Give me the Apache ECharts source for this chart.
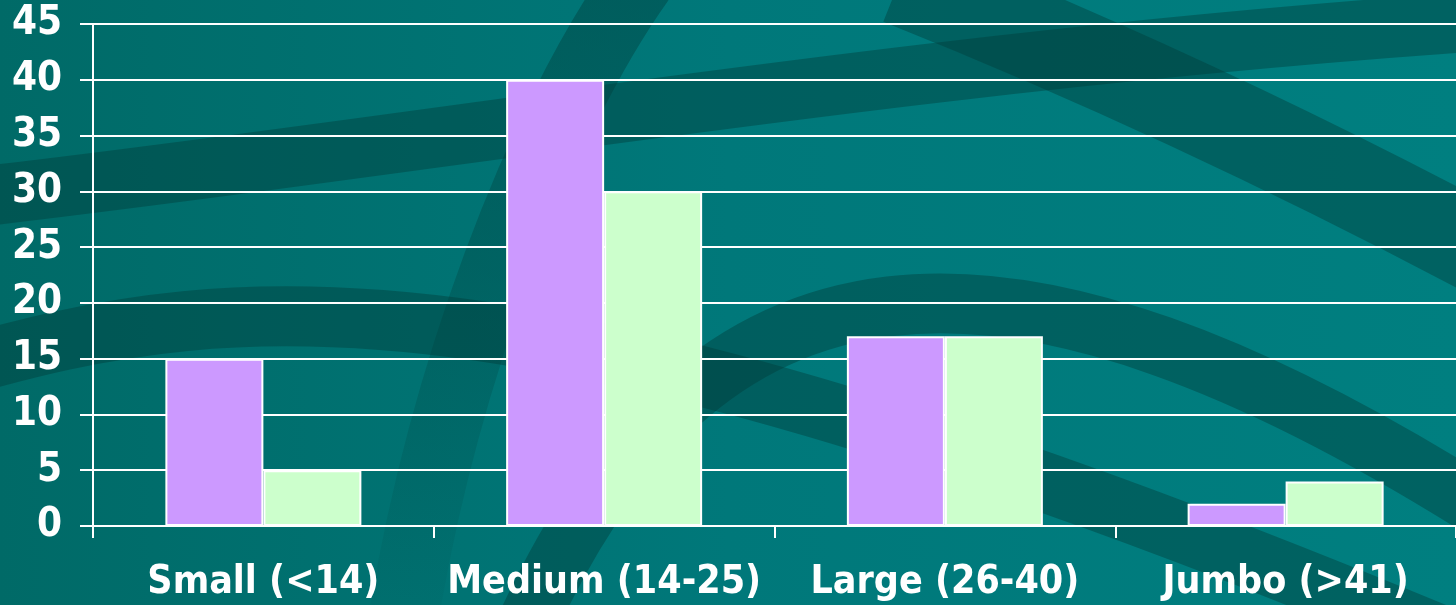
<!DOCTYPE html>
<html>
<head>
<meta charset="utf-8">
<script src="https://cdn.jsdelivr.net/npm/echarts@6/dist/echarts.min.js"></script>
<style>
  html, body { margin: 0; padding: 0; }
  #chart { width: 1456px; height: 605px; }
</style>
</head>
<body>
<div id="chart"></div>
<script>
  var categories = ['Small (<14)', 'Medium (14-25)', 'Large (26-40)', 'Jumbo (>41)'];
  var seriesA = [15, 40, 17, 2];
  var seriesB = [5, 30, 17, 4];

  var font = '"DejaVu Sans Condensed", "DejaVu Sans", sans-serif';
  var swoosh = 'rgba(0,60,58,0.42)';

  // decorative background bands
  function band(x1, y1, c1x, c1y, c2x, c2y, x2, y2, w, stroke) {
    return {
      type: 'bezierCurve',
      silent: true,
      z: -10,
      shape: { x1: x1, y1: y1, cpx1: c1x, cpy1: c1y, cpx2: c2x, cpy2: c2y, x2: x2, y2: y2 },
      style: { stroke: stroke || swoosh, lineWidth: w, fill: null }
    };
  }

  var fade = new echarts.graphic.LinearGradient(0, 0, 0, 1, [
    { offset: 0, color: 'rgba(0,60,58,0.45)' },
    { offset: 0.45, color: 'rgba(0,60,58,0.3)' },
    { offset: 1, color: 'rgba(0,60,58,0.0)' }
  ]);

  var chart = echarts.init(document.getElementById('chart'));
  chart.setOption({
    backgroundColor: new echarts.graphic.LinearGradient(0, 0, 1, 0, [
      { offset: 0, color: '#006a67' },
      { offset: 0.5, color: '#00787a' },
      { offset: 1, color: '#007f80' }
    ]),
    graphic: [
      band(-50, 200, 400, 150, 900, 60, 1500, 20, 60),
      band(-50, 370, 250, 280, 550, 260, 1500, 660, 60),
      band(520, 640, 700, 230, 1000, 200, 1500, 520, 60),
      band(640, -20, 540, 120, 440, 380, 400, 640, 70, fade),
      band(900, -20, 1150, 80, 1350, 180, 1500, 260, 90)
    ],
    grid: { left: 93, right: 0, top: 24, bottom: 79, containLabel: false },
    xAxis: {
      type: 'category',
      data: categories,
      axisLine: { lineStyle: { color: '#ffffff', width: 2 } },
      axisTick: { show: true, length: 12, lineStyle: { color: '#ffffff', width: 2 } },
      axisLabel: {
        color: '#ffffff', fontFamily: font, fontWeight: 'bold', fontSize: 39,
        margin: 37, interval: 0
      }
    },
    yAxis: {
      type: 'value',
      min: 0, max: 45, interval: 5,
      axisLine: { show: true, lineStyle: { color: '#ffffff', width: 2 } },
      axisTick: { show: true, length: 13, lineStyle: { color: '#ffffff', width: 2 } },
      splitLine: { lineStyle: { color: '#ffffff', width: 2 } },
      axisLabel: {
        color: '#ffffff', fontFamily: font, fontWeight: 'bold', fontSize: 40,
        margin: 31
      }
    },
    series: [
      {
        type: 'bar', data: seriesA, barWidth: 98, barGap: '0%',
        itemStyle: { color: '#cc99ff', borderColor: '#ffffff', borderWidth: 2 }
      },
      {
        type: 'bar', data: seriesB, barWidth: 98,
        itemStyle: { color: '#ccffcc', borderColor: '#ffffff', borderWidth: 2 }
      }
    ]
  });
</script>
</body>
</html>
